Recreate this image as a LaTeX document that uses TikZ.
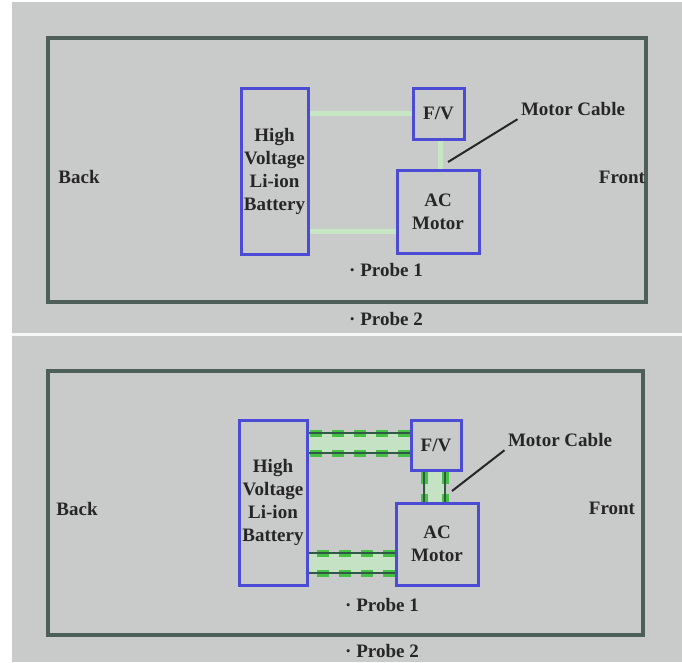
\documentclass[tikz,border=0pt]{standalone}
\usepackage{fontspec}
\setmainfont{Liberation Serif}
\usepackage{tikz}

\definecolor{panelgray}{HTML}{C9CBCA}
\definecolor{framegray}{HTML}{4E5E58}
\definecolor{boxblue}{HTML}{4B4BD6}
\definecolor{cablelight}{HTML}{C6E6C4}
\definecolor{cablegreen}{HTML}{45C045}
\definecolor{cabledark}{HTML}{2F5A45}

\begin{document}
\begin{tikzpicture}[x=1pt, y=-1pt,
  every node/.style={font=\fontsize{19}{23}\selectfont\bfseries, text=black!85},
  part/.style={draw=boxblue, line width=3pt, inner sep=0pt, align=center},
  frame/.style={draw=framegray, line width=4pt},
  oldcable/.style={draw=cablelight, line width=5pt},
  cableband/.style={draw=cablelight!85!panelgray, line width=18pt},
  newcable/.style={draw=cabledark, line width=2pt,
    preaction={draw=cablegreen, line width=7pt, dash pattern=on 12pt off 10pt}},
  leader/.style={draw=black!85, line width=2pt}]
  \useasboundingbox (0,0) rectangle (682,662);
  \fill[white] (0,0) rectangle (682,662);
  \fill[panelgray] (12,2) rectangle (682,662);
  \draw[white!85!panelgray, line width=3pt] (12,334) -- (682,334);

  % before
  \draw[frame] (48,38) rectangle (646,302);
  \node[part, minimum width=67pt, minimum height=166pt] (battA) at (274.5,171)
    {High\\Voltage\\Li-ion\\Battery};
  \node[part, minimum width=51pt, minimum height=51pt] (fvA) at (438.5,113.5) {F/V};
  \node[part, minimum width=82pt, minimum height=83pt] (motA) at (438,211.5) {AC\\Motor};
  \draw[oldcable] (fvA.west) -- (fvA.west -| battA.east);
  \draw[oldcable] ([yshift=-20pt]motA.west) -- ([yshift=-20pt]motA.west -| battA.east);
  \draw[oldcable] ([xshift=2pt]fvA.south) -- ([xshift=2pt]fvA.south |- motA.north);
  \node (mcA) at (573,109) {Motor Cable};
  \coordinate (tapA) at (448,162);
  \draw[leader] (tapA) -- (mcA.south west);
  \node (backA) at (79,177) {Back};
  \node (frontA) at (622,177) {Front};
  \node (pA1) at (386,270) {\textperiodcentered{} Probe 1};
  \node (pA2) at (386,319) {\textperiodcentered{} Probe 2};

  % after
  \draw[frame] (48,371) rectangle (643,635);
  \node[part, minimum width=68pt, minimum height=165pt] (battB) at (273,502.5)
    {High\\Voltage\\Li-ion\\Battery};
  \node[part, minimum width=50pt, minimum height=50pt] (fvB) at (436,445) {F/V};
  \node[part, minimum width=82pt, minimum height=82pt] (motB) at (437,544) {AC\\Motor};
  \draw[cableband] ([yshift=2pt]fvB.west) -- ([yshift=2pt]fvB.west -| battB.east);
  \draw[newcable] ([yshift=12pt]fvB.west) -- ([yshift=12pt]fvB.west -| battB.east);
  \draw[newcable] ([yshift=-8pt]fvB.west) -- ([yshift=-8pt]fvB.west -| battB.east);
  \draw[cableband] ([yshift=-19pt]motB.west) -- ([yshift=-19pt]motB.west -| battB.east);
  \draw[newcable] ([yshift=-9pt]motB.west) -- ([yshift=-9pt]motB.west -| battB.east);
  \draw[newcable] ([yshift=-29pt]motB.west) -- ([yshift=-29pt]motB.west -| battB.east);
  \draw[cableband] ([xshift=-1.5pt]fvB.south) -- ([xshift=-1.5pt]fvB.south |- motB.north);
  \draw[newcable] ([xshift=-12pt]fvB.south) -- ([xshift=-12pt]fvB.south |- motB.north);
  \draw[newcable] ([xshift=9pt]fvB.south) -- ([xshift=9pt]fvB.south |- motB.north);
  \node (mcB) at (560,440) {Motor Cable};
  \coordinate (tapB) at (452,491);
  \draw[leader] (tapB) -- (mcB.south west);
  \node (backB) at (77,509) {Back};
  \node (frontB) at (612,508) {Front};
  \node (pB1) at (382,605) {\textperiodcentered{} Probe 1};
  \node (pB2) at (382,651) {\textperiodcentered{} Probe 2};
\end{tikzpicture}
\end{document}
